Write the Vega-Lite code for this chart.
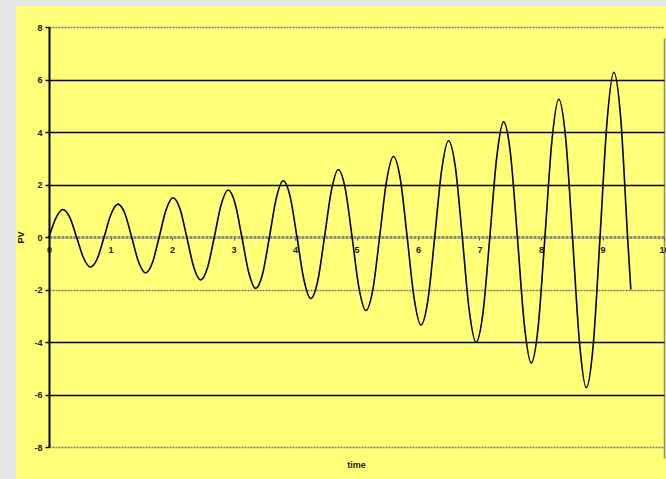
{
  "$schema": "https://vega.github.io/schema/vega-lite/v6.json",
  "width": 650,
  "height": 473,
  "autosize": {"type": "none"},
  "padding": {"left": 16, "top": 6, "right": 0, "bottom": 0},
  "background": "#e6e6e6",
  "config": {
    "view": {"fill": "#ffff78", "stroke": null},
    "font": "Liberation Sans",
    "axis": {
      "labelFont": "Liberation Sans",
      "labelFontWeight": "bold",
      "labelFontSize": 9,
      "labelColor": "#1a1a1a",
      "labelFlush": false,
      "titleFont": "Liberation Sans",
      "titleFontWeight": "bold",
      "titleFontSize": 9,
      "titleColor": "#1a1a1a"
    }
  },
  "data": {
    "values": [
      {"time": 0.000, "PV": 0},
      {"time": 0.112, "PV": 0.723},
      {"time": 0.224, "PV": 1.046},
      {"time": 0.336, "PV": 0.756},
      {"time": 0.448, "PV": 0},
      {"time": 0.560, "PV": -0.791},
      {"time": 0.672, "PV": -1.144},
      {"time": 0.784, "PV": -0.827},
      {"time": 0.896, "PV": 0},
      {"time": 1.008, "PV": 0.865},
      {"time": 1.120, "PV": 1.251},
      {"time": 1.232, "PV": 0.905},
      {"time": 1.344, "PV": 0},
      {"time": 1.456, "PV": -0.946},
      {"time": 1.568, "PV": -1.368},
      {"time": 1.680, "PV": -0.989},
      {"time": 1.792, "PV": 0},
      {"time": 1.904, "PV": 1.035},
      {"time": 2.016, "PV": 1.497},
      {"time": 2.128, "PV": 1.082},
      {"time": 2.240, "PV": 0},
      {"time": 2.352, "PV": -1.132},
      {"time": 2.464, "PV": -1.637},
      {"time": 2.576, "PV": -1.184},
      {"time": 2.688, "PV": 0},
      {"time": 2.800, "PV": 1.238},
      {"time": 2.912, "PV": 1.790},
      {"time": 3.024, "PV": 1.295},
      {"time": 3.136, "PV": 0},
      {"time": 3.248, "PV": -1.354},
      {"time": 3.360, "PV": -1.958},
      {"time": 3.472, "PV": -1.416},
      {"time": 3.584, "PV": 0},
      {"time": 3.696, "PV": 1.481},
      {"time": 3.808, "PV": 2.142},
      {"time": 3.920, "PV": 1.549},
      {"time": 4.032, "PV": 0},
      {"time": 4.144, "PV": -1.620},
      {"time": 4.256, "PV": -2.342},
      {"time": 4.368, "PV": -1.694},
      {"time": 4.480, "PV": 0},
      {"time": 4.592, "PV": 1.772},
      {"time": 4.704, "PV": 2.562},
      {"time": 4.816, "PV": 1.853},
      {"time": 4.928, "PV": 0},
      {"time": 5.040, "PV": -1.938},
      {"time": 5.152, "PV": -2.802},
      {"time": 5.264, "PV": -2.026},
      {"time": 5.376, "PV": 0},
      {"time": 5.488, "PV": 2.119},
      {"time": 5.600, "PV": 3.065},
      {"time": 5.712, "PV": 2.216},
      {"time": 5.824, "PV": 0},
      {"time": 5.936, "PV": -2.318},
      {"time": 6.048, "PV": -3.352},
      {"time": 6.160, "PV": -2.424},
      {"time": 6.272, "PV": 0},
      {"time": 6.384, "PV": 2.535},
      {"time": 6.496, "PV": 3.666},
      {"time": 6.608, "PV": 2.651},
      {"time": 6.720, "PV": 0},
      {"time": 6.832, "PV": -2.773},
      {"time": 6.944, "PV": -4.010},
      {"time": 7.056, "PV": -2.900},
      {"time": 7.168, "PV": 0},
      {"time": 7.280, "PV": 3.033},
      {"time": 7.392, "PV": 4.386},
      {"time": 7.504, "PV": 3.172},
      {"time": 7.616, "PV": 0},
      {"time": 7.728, "PV": -3.317},
      {"time": 7.840, "PV": -4.797},
      {"time": 7.952, "PV": -3.469},
      {"time": 8.064, "PV": 0},
      {"time": 8.176, "PV": 3.628},
      {"time": 8.288, "PV": 5.247},
      {"time": 8.400, "PV": 3.794},
      {"time": 8.512, "PV": 0},
      {"time": 8.624, "PV": -3.968},
      {"time": 8.736, "PV": -5.739},
      {"time": 8.848, "PV": -4.150},
      {"time": 8.960, "PV": 0},
      {"time": 9.072, "PV": 4.340},
      {"time": 9.184, "PV": 6.277},
      {"time": 9.296, "PV": 4.539},
      {"time": 9.408, "PV": 0},
      {"time": 9.460, "PV": -2.0}
    ]
  },
  "mark": {"type": "line", "interpolate": "monotone", "color": "#000000", "strokeWidth": 1.6},
  "encoding": {
    "x": {
      "field": "time",
      "type": "quantitative",
      "scale": {"domain": [0, 10], "range": [33, 648], "nice": false, "zero": false},
      "axis": {
        "title": "time",
        "titleX": 340,
        "titleY": 227,
        "titleAlign": "center",
        "titleBaseline": "middle",
        "offset": -242,
        "values": [0, 1, 2, 3, 4, 5, 6, 7, 8, 9, 10],
        "labelExpr": "'' + datum.value",
        "domainColor": "#8a8a8a",
        "domainWidth": 3,
        "domainDash": [3, 1],
        "tickColor": "#555555",
        "tickSize": 3,
        "tickWidth": 1,
        "labelPadding": 5,
        "labelBaseline": "top",
        "grid": true,
        "gridColor": "#8a8a8a",
        "gridWidth": 1.5,
        "gridOpacity": {"condition": {"test": "datum.value == 10", "value": 1}, "value": 0}
      }
    },
    "y": {
      "field": "PV",
      "type": "quantitative",
      "scale": {"domain": [-8, 8], "range": [441, 21], "nice": false, "zero": false},
      "axis": {
        "title": "PV",
        "titleX": -29,
        "titleY": 231,
        "titleAngle": -90,
        "titleAlign": "center",
        "titleBaseline": "middle",
        "offset": -33,
        "values": [-8, -6, -4, -2, 0, 2, 4, 6, 8],
        "labelExpr": "datum.value < 0 ? '-' + abs(datum.value) : '' + datum.value",
        "domainColor": "#000000",
        "domainWidth": 2,
        "tickColor": "#000000",
        "tickSize": 4,
        "tickWidth": 1.5,
        "labelPadding": 3,
        "grid": true,
        "gridWidth": 1.5,
        "gridColor": {"condition": {"test": "abs(datum.value) == 8 || datum.value == -2", "value": "#7a7a7a"}, "value": "#000000"},
        "gridDash": {"condition": {"test": "abs(datum.value) == 8 || datum.value == -2", "value": [2, 1]}, "value": []},
        "gridOpacity": {"condition": {"test": "datum.value == 0", "value": 0}, "value": 1}
      }
    }
  }
}
